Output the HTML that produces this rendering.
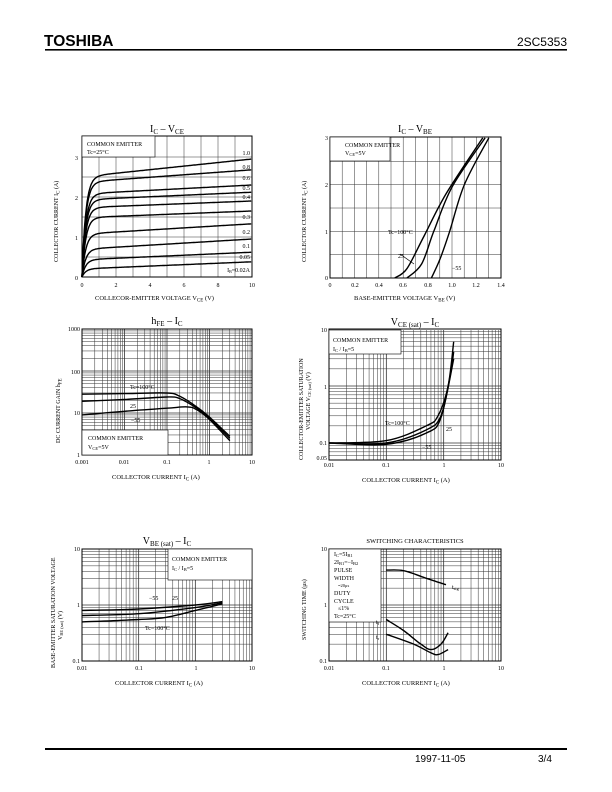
<!DOCTYPE html>
<html><head><meta charset="utf-8"><style>
html,body{margin:0;padding:0;background:#fff}
svg{display:block}
.s{font-family:"Liberation Serif",serif;fill:#000}
.t{font-size:6px}
.h{font-size:10px}
.l{font-size:6.5px}
</style></head><body>
<svg id="g" width="612" height="792" xmlns="http://www.w3.org/2000/svg">
<rect width="612" height="792" fill="#fff"/>
<text x="44" y="46" style="font-family:'Liberation Sans',sans-serif;font-weight:bold;font-size:15.5px">TOSHIBA</text>
<text x="567" y="46" text-anchor="end" style="font-family:'Liberation Sans',sans-serif;font-size:12px">2SC5353</text>
<rect x="45" y="49" width="522" height="1.6" fill="#000"/>
<rect x="45" y="748" width="522" height="2" fill="#000"/>
<text x="415" y="762" style="font-family:'Liberation Sans',sans-serif;font-size:10px">1997-11-05</text>
<text x="538" y="762" style="font-family:'Liberation Sans',sans-serif;font-size:10px">3/4</text>
<g id="grids"></g>
<g id="boxes"></g>
<g id="curves" fill="none" stroke="#000" stroke-width="1.4"></g>
<g class="s">
<!-- chart1 -->
<text x="167" y="132" class="h" text-anchor="middle">I<tspan font-size="7" dy="2">C</tspan><tspan dy="-2"> – V</tspan><tspan font-size="7" dy="2">CE</tspan></text>
<text x="87" y="146" class="t">COMMON EMITTER</text>
<text x="87" y="154" class="t" font-size="5.5">Tc=25°C</text>
<text x="78" y="160" class="t" text-anchor="end">3</text>
<text x="78" y="200" class="t" text-anchor="end">2</text>
<text x="78" y="240" class="t" text-anchor="end">1</text>
<text x="78" y="280" class="t" text-anchor="end">0</text>
<text x="82" y="287" class="t" text-anchor="middle">0</text>
<text x="116" y="287" class="t" text-anchor="middle">2</text>
<text x="150" y="287" class="t" text-anchor="middle">4</text>
<text x="184" y="287" class="t" text-anchor="middle">6</text>
<text x="218" y="287" class="t" text-anchor="middle">8</text>
<text x="252" y="287" class="t" text-anchor="middle">10</text>
<text x="95" y="300" class="l">COLLECOR-EMITTER VOLTAGE  V<tspan font-size="5" dy="1.5">CE</tspan><tspan dy="-1.5">   (V)</tspan></text>
<text transform="translate(58,262) rotate(-90)" class="t">COLLECTOR CURRENT  I<tspan font-size="5" dy="1.5">C</tspan><tspan dy="-1.5">  (A)</tspan></text>
<g class="t" text-anchor="end" font-size="5.5">
<text x="250" y="155">1.0</text><text x="250" y="169">0.8</text><text x="250" y="180">0.6</text>
<text x="250" y="190">0.5</text><text x="250" y="199">0.4</text><text x="250" y="219">0.3</text>
<text x="250" y="234">0.2</text><text x="250" y="248">0.1</text><text x="250" y="259">0.05</text>
<text x="250" y="272">I<tspan font-size="4" dy="1">B</tspan><tspan dy="-1">=0.02A</tspan></text>
</g>
<!-- chart2 -->
<text x="415" y="132" class="h" text-anchor="middle">I<tspan font-size="7" dy="2">C</tspan><tspan dy="-2"> – V</tspan><tspan font-size="7" dy="2">BE</tspan></text>
<text x="345" y="147" class="t">COMMON EMITTER</text>
<text x="345" y="155" class="t">V<tspan font-size="4.5" dy="1">CE</tspan><tspan dy="-1">=5V</tspan></text>
<text x="328" y="140" class="t" text-anchor="end" font-size="5">3</text>
<text x="328" y="187" class="t" text-anchor="end" font-size="5">2</text>
<text x="328" y="234" class="t" text-anchor="end">1</text>
<text x="328" y="280" class="t" text-anchor="end">0</text>
<g class="t" text-anchor="middle">
<text x="330" y="287">0</text><text x="355" y="287">0.2</text><text x="379" y="287">0.4</text><text x="403" y="287">0.6</text><text x="428" y="287">0.8</text><text x="452" y="287">1.0</text><text x="476" y="287">1.2</text><text x="501" y="287">1.4</text>
</g>
<text x="354" y="300" class="l">BASE-EMITTER VOLTAGE  V<tspan font-size="5" dy="1.5">BE</tspan><tspan dy="-1.5">   (V)</tspan></text>
<text transform="translate(306,262) rotate(-90)" class="t">COLLECTOR CURRENT  I<tspan font-size="5" dy="1.5">C</tspan><tspan dy="-1.5">  (A)</tspan></text>
<text x="388" y="234" class="t">Tc=100°C</text>
<text x="398" y="258" class="t">25</text>
<text x="452" y="270" class="t">−55</text>
<!-- chart3 -->
<text x="167" y="324" class="h" text-anchor="middle">h<tspan font-size="7" dy="2">FE</tspan><tspan dy="-2"> – I</tspan><tspan font-size="7" dy="2">C</tspan></text>
<g class="t" text-anchor="end"><text x="80" y="331">1000</text><text x="80" y="374">100</text><text x="80" y="415">10</text><text x="80" y="457">1</text></g>
<g class="t" text-anchor="middle"><text x="82" y="464">0.001</text><text x="124" y="464">0.01</text><text x="167" y="464">0.1</text><text x="209" y="464">1</text><text x="252" y="464">10</text></g>
<text x="112" y="479" class="l">COLLECTOR CURRENT  I<tspan font-size="5" dy="1.5">C</tspan><tspan dy="-1.5">  (A)</tspan></text>
<text transform="translate(60,443) rotate(-90)" class="t">DC CURRENT GAIN   h<tspan font-size="5" dy="1.5">FE</tspan></text>
<text x="130" y="389" class="t">Tc=100°C</text>
<text x="130" y="408" class="t">25</text>
<text x="131" y="422" class="t">−55</text>
<text x="88" y="440" class="t">COMMON EMITTER</text>
<text x="88" y="449" class="t">V<tspan font-size="4.5" dy="1">CE</tspan><tspan dy="-1">=5V</tspan></text>
<!-- chart4 -->
<text x="415" y="325" class="h" text-anchor="middle">V<tspan font-size="7" dy="2">CE (sat)</tspan><tspan dy="-2"> – I</tspan><tspan font-size="7" dy="2">C</tspan></text>
<g class="t" text-anchor="end"><text x="327" y="332">10</text><text x="327" y="389">1</text><text x="327" y="445">0.1</text><text x="327" y="460">0.05</text></g>
<g class="t" text-anchor="middle"><text x="329" y="467">0.01</text><text x="386" y="467">0.1</text><text x="444" y="467">1</text><text x="501" y="467">10</text></g>
<text x="362" y="482" class="l">COLLECTOR CURRENT  I<tspan font-size="5" dy="1.5">C</tspan><tspan dy="-1.5">  (A)</tspan></text>
<text transform="translate(303,460) rotate(-90)" class="t" font-size="5.6">COLLECTOR-EMITTER SATURATION</text>
<text transform="translate(310,430) rotate(-90)" class="t" font-size="5.6">VOLTAGE  V<tspan font-size="4.5" dy="1">CE (sat)</tspan><tspan dy="-1">    (V)</tspan></text>
<text x="333" y="342" class="t">COMMON EMITTER</text>
<text x="333" y="351" class="t">I<tspan font-size="4.5" dy="1">C</tspan><tspan dy="-1"> / I</tspan><tspan font-size="4.5" dy="1">B</tspan><tspan dy="-1">=5</tspan></text>
<text x="385" y="425" class="t">Tc=100°C</text>
<text x="446" y="431" class="t">25</text>
<text x="422" y="449" class="t">−55</text>
<!-- chart5 -->
<text x="167" y="544" class="h" text-anchor="middle">V<tspan font-size="7" dy="2">BE (sat)</tspan><tspan dy="-2"> – I</tspan><tspan font-size="7" dy="2">C</tspan></text>
<g class="t" text-anchor="end"><text x="80" y="551">10</text><text x="80" y="607">1</text><text x="80" y="663">0.1</text></g>
<g class="t" text-anchor="middle"><text x="82" y="670">0.01</text><text x="139" y="670">0.1</text><text x="196" y="670">1</text><text x="252" y="670">10</text></g>
<text x="115" y="685" class="l">COLLECTOR CURRENT  I<tspan font-size="5" dy="1.5">C</tspan><tspan dy="-1.5">  (A)</tspan></text>
<text transform="translate(55,668) rotate(-90)" class="t" font-size="5.6">BASE-EMITTER SATURATION VOLTAGE</text>
<text transform="translate(62,640) rotate(-90)" class="t" font-size="5.6">V<tspan font-size="4.5" dy="1">BE (sat)</tspan><tspan dy="-1">   (V)</tspan></text>
<text x="172" y="561" class="t">COMMON EMITTER</text>
<text x="172" y="570" class="t" font-size="5.5">I<tspan font-size="4.5" dy="1">C</tspan><tspan dy="-1"> / I</tspan><tspan font-size="4.5" dy="1">B</tspan><tspan dy="-1">=5</tspan></text>
<text x="149" y="600" class="t">−55</text>
<text x="172" y="600" class="t">25</text>
<text x="145" y="630" class="t">Tc=100°C</text>
<!-- chart6 -->
<text x="415" y="543" class="l" font-size="8" text-anchor="middle">SWITCHING  CHARACTERISTICS</text>
<g class="t" text-anchor="end"><text x="327" y="551">10</text><text x="327" y="607">1</text><text x="327" y="663">0.1</text></g>
<g class="t" text-anchor="middle"><text x="329" y="670">0.01</text><text x="386" y="670">0.1</text><text x="444" y="670">1</text><text x="501" y="670">10</text></g>
<text x="362" y="685" class="l">COLLECTOR CURRENT  I<tspan font-size="5" dy="1.5">C</tspan><tspan dy="-1.5">  (A)</tspan></text>
<text transform="translate(306,640) rotate(-90)" class="t">SWITCHING TIME  (μs)</text>
<g class="t" font-size="5.5">
<text x="334" y="556">I<tspan font-size="4.5" dy="1">C</tspan><tspan dy="-1">=5I</tspan><tspan font-size="4.5" dy="1">B1</tspan></text>
<text x="334" y="564">2I<tspan font-size="4.5" dy="1">B1</tspan><tspan dy="-1">=−I</tspan><tspan font-size="4.5" dy="1">B2</tspan></text>
<text x="334" y="572">PULSE</text><text x="334" y="580">WIDTH</text>
<text x="338" y="587" font-size="4.5">=20μs</text>
<text x="334" y="595">DUTY</text><text x="334" y="603">CYCLE</text>
<text x="338" y="610">≤1%</text><text x="334" y="618">Tc=25°C</text>
<text x="452" y="589">t<tspan font-size="4.5" dy="1">stg</tspan></text>
<text x="376" y="624">t<tspan font-size="4.5" dy="1">f</tspan></text>
<text x="376" y="639">t<tspan font-size="4.5" dy="1">r</tspan></text>
</g>
</g>
</svg>
<script>
var NS="http://www.w3.org/2000/svg";
function el(p,t,a){var e=document.createElementNS(NS,t);for(var k in a)e.setAttribute(k,a[k]);document.getElementById(p).appendChild(e);return e;}
function line(x1,y1,x2,y2,w,c){el("grids","line",{x1:x1,y1:y1,x2:x2,y2:y2,stroke:c||"#333","stroke-width":w||0.5});}
function frame(x0,y0,x1,y1){el("grids","rect",{x:x0,y:y0,width:x1-x0,height:y1-y0,fill:"none",stroke:"#000","stroke-width":1});}
function logLines(a0,a1,dec,vert,o0,o1){var n=Math.round(dec),d=(a1-a0)/n;for(var i=0;i<n;i++)for(var k=1;k<=9;k++){var p=a0+d*(i+Math.log10(k));if(vert)line(p,o0,p,o1,k==1?0.8:0.5);else line(o0,p,o1,p,k==1?0.8:0.5);}}
for(var i=1;i<10;i++)line(82+17*i,136,82+17*i,277);
for(var i=1;i<7;i++)line(82,277-20*i,252,277-20*i);
frame(82,136,252,277);
for(var i=1;i<14;i++)line(330+12.2*i,137,330+12.2*i,278);
for(var i=1;i<6;i++)line(330,278-23.33*i,501,278-23.33*i);
frame(330,137,501,278);
logLines(82,252,4,true,329,455);logLines(455,329,3,false,82,252);frame(82,329,252,455);
logLines(329,501,3,true,330,460);
(function(){for(var e=-2;e<=0;e++)for(var k=1;k<=9;k++){var v=k*Math.pow(10,e);if(v<0.05)continue;var y=386-57*Math.log10(v);line(329,y,501,y,k==1?0.8:0.5);}})();
frame(329,329,501,460);
logLines(82,252,3,true,549,661);logLines(661,549,2,false,82,252);frame(82,549,252,661);
logLines(329,501,3,true,549,661);logLines(661,549,2,false,329,501);frame(329,549,501,661);
function box(x,y,w,h){el("boxes","rect",{x:x,y:y,width:w,height:h,fill:"#fff",stroke:"#000","stroke-width":0.6});}
box(82,136,73,21);box(330,137,60,24);box(82,430,86,25);box(329,330,72,24);box(168,549,84,31);box(329,549,52,73);
function path(pts,fx,fy){var d="";pts.forEach(function(p,i){d+=(i?"L":"M")+fx(p[0]).toFixed(1)+","+fy(p[1]).toFixed(1);});el("curves","path",{d:d});}
function smooth(pts,fx,fy){var P=pts.map(function(p){return [fx(p[0]),fy(p[1])]});var d="M"+P[0][0].toFixed(1)+","+P[0][1].toFixed(1);
for(var i=0;i<P.length-1;i++){var p0=P[i-1]||P[i],p1=P[i],p2=P[i+1],p3=P[i+2]||P[i+1];
var c1=[p1[0]+(p2[0]-p0[0])/6,p1[1]+(p2[1]-p0[1])/6],c2=[p2[0]-(p3[0]-p1[0])/6,p2[1]-(p3[1]-p1[1])/6];
d+="C"+c1[0].toFixed(1)+","+c1[1].toFixed(1)+" "+c2[0].toFixed(1)+","+c2[1].toFixed(1)+" "+p2[0].toFixed(1)+","+p2[1].toFixed(1);}
el("curves","path",{d:d});}
var c1=[[2.95,2.55],[2.68,2.4],[2.3,2.1],[2.12,1.95],[1.9,1.75],[1.65,1.5],[1.33,1.1],[0.95,0.72],[0.62,0.45],[0.38,0.22]];
c1.forEach(function(c){var s=(c[0]-c[1])/9,I=c[1]-s;var pts=[];for(var v=0;v<=10;v+=0.05)pts.push([v,I*(1-Math.exp(-v/0.22))+s*v]);path(pts,function(v){return 82+17*v},function(a){return 277-40*a});});
var f2x=function(v){return 330+v/1.4*171},f2y=function(a){return 278-46.7*a};
smooth([[0.53,0],[0.63,0.2],[0.77,0.9],[0.95,1.8],[1.25,3]],f2x,f2y);
smooth([[0.63,0],[0.75,0.3],[0.85,1.0],[1.0,1.95],[1.27,3]],f2x,f2y);
smooth([[0.83,0],[0.9,0.4],[0.98,1.0],[1.1,2.0],[1.3,3]],f2x,f2y);
el("curves","path",{d:"M400,254 L414,264",stroke:"#000","stroke-width":0.7});
var f3x=function(v){return 82+42.5*(Math.log10(v)+3)},f3y=function(v){return 455-42*Math.log10(v)};
smooth([[0.001,28],[0.01,29],[0.1,30],[0.2,25],[0.5,14],[1,8],[3,2.8]],f3x,f3y);
smooth([[0.001,19],[0.01,21],[0.1,24],[0.2,22],[0.5,13],[1,7.5],[3,2.5]],f3x,f3y);
smooth([[0.001,9],[0.01,11],[0.1,13],[0.3,14],[0.5,12],[1,7],[3,2.2]],f3x,f3y);
var f4x=function(v){return 329+57.3*(Math.log10(v)+2)},f4y=function(v){return 386-57*Math.log10(v)};
smooth([[0.01,0.1],[0.1,0.11],[0.5,0.2],[0.8,0.3],[1.2,1],[1.5,6]],f4x,f4y);
smooth([[0.01,0.1],[0.1,0.1],[0.5,0.17],[0.9,0.3],[1.3,1.5],[1.5,4]],f4x,f4y);
smooth([[0.01,0.1],[0.1,0.095],[0.5,0.15],[0.9,0.28],[1.5,3]],f4x,f4y);
var f5x=function(v){return 82+56.7*(Math.log10(v)+2)},f5y=function(v){return 605-56*Math.log10(v)};
smooth([[0.01,0.8],[0.1,0.85],[1,1.0],[3,1.15]],f5x,f5y);
smooth([[0.01,0.65],[0.1,0.7],[1,0.9],[3,1.1]],f5x,f5y);
smooth([[0.01,0.5],[0.1,0.55],[0.3,0.6],[1,0.8],[3,1.05]],f5x,f5y);
var f6x=function(v){return 329+57.3*(Math.log10(v)+2)};
smooth([[0.1,4.2],[0.2,4.1],[0.5,3],[1.1,2.3]],f6x,f5y);
smooth([[0.1,0.55],[0.2,0.35],[0.4,0.2],[0.6,0.16],[0.9,0.2],[1.2,0.32]],f6x,f5y);
smooth([[0.1,0.3],[0.3,0.2],[0.6,0.14],[0.8,0.13],[1.2,0.16]],f6x,f5y);
</script>
</body></html>
